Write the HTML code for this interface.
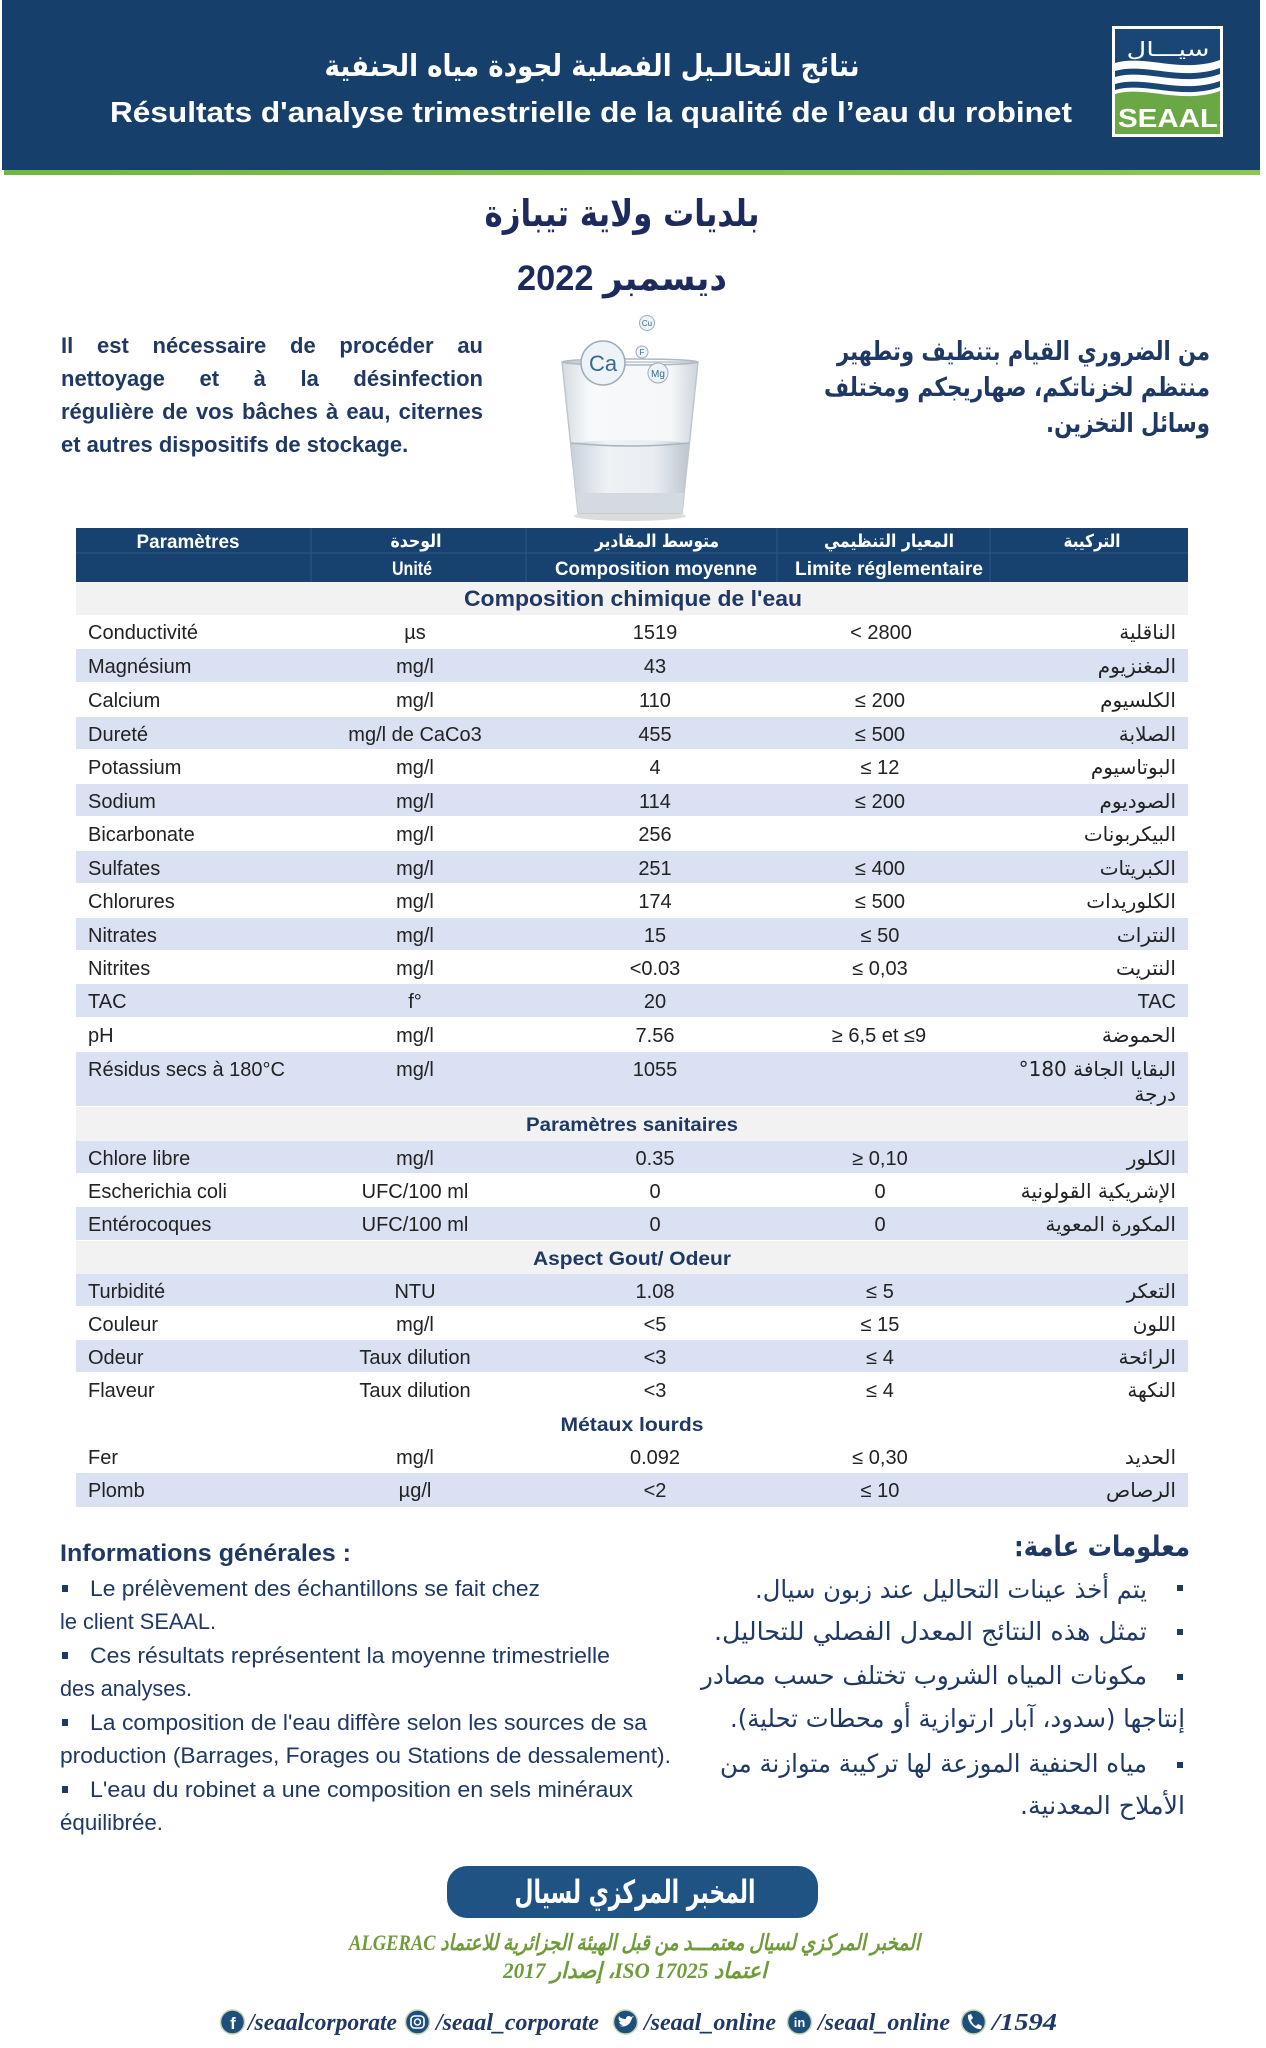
<!DOCTYPE html>
<html><head><meta charset="utf-8">
<style>
html,body{margin:0;padding:0;background:#fff;}
#page{position:relative;width:1266px;height:2048px;overflow:hidden;background:#fff;}
svg{position:absolute;left:0;top:0;}
.lp{position:absolute;left:61px;top:329px;width:422px;font-family:"Liberation Sans",sans-serif;font-weight:bold;font-size:22px;line-height:33px;color:#1f3864;}
.lp div{white-space:normal;}
.lp .j{text-align:justify;text-align-last:justify;}
</style></head>
<body><div id="page">
<svg width="1266" height="2048" viewBox="0 0 1266 2048" font-family="'Liberation Sans','DejaVu Sans',sans-serif">
<defs>
<linearGradient id="gl" x1="0" x2="1"><stop offset="0" stop-color="#d5dbe1"/><stop offset="0.2" stop-color="#f7f9fa"/><stop offset="0.8" stop-color="#f5f7f9"/><stop offset="1" stop-color="#cdd4db"/></linearGradient>
<linearGradient id="wt" x1="0" x2="1"><stop offset="0" stop-color="#c7d0d9"/><stop offset="0.3" stop-color="#eef2f5"/><stop offset="0.7" stop-color="#eaeef2"/><stop offset="1" stop-color="#bcc6d0"/></linearGradient>
<linearGradient id="gr" x1="0" x2="1"><stop offset="0" stop-color="#6fb843"/><stop offset="1" stop-color="#8cc74f"/></linearGradient>
</defs>

<!-- Header band -->
<rect x="2" y="0" width="1258" height="170" fill="#163f6b"/>
<rect x="4" y="170" width="1256" height="5" fill="url(#gr)"/>
<text x="592" y="76" text-anchor="middle" font-family="'DejaVu Sans',sans-serif" font-weight="bold" font-size="30" fill="#fff" textLength="535" lengthAdjust="spacingAndGlyphs">نتائج التحالـيل الفصلية لجودة مياه الحنفية</text>
<text x="591" y="122" text-anchor="middle" font-weight="bold" font-size="29" fill="#fff" textLength="962" lengthAdjust="spacingAndGlyphs">Résultats d'analyse trimestrielle de la qualité de l’eau du robinet</text>

<!-- Logo -->
<rect x="1112" y="26" width="111" height="111" fill="#fff"/>
<rect x="1115" y="29" width="105" height="105" fill="#1a4675"/>
<text x="1168" y="56" text-anchor="middle" font-family="'DejaVu Sans',sans-serif" font-size="20" fill="#fff" textLength="83" lengthAdjust="spacingAndGlyphs">سيـــال</text>
<path d="M1115,63 C1145,54 1180,74 1220,60 L1220,68 C1180,82 1145,62 1115,71 Z" fill="#fff"/>
<path d="M1115,77 C1145,68 1180,88 1220,74 L1220,81 C1180,95 1145,75 1115,84 Z" fill="#fff"/>
<path d="M1115,90 C1145,81 1180,101 1220,87 L1220,134 L1115,134 Z" fill="#fff"/>
<path d="M1115,94 C1145,85 1180,105 1220,91 L1220,134 L1115,134 Z" fill="#6aa846"/>
<text x="1168" y="127" text-anchor="middle" font-weight="bold" font-size="26" fill="#fff" textLength="100" lengthAdjust="spacingAndGlyphs">SEAAL</text>

<!-- Titles -->
<text x="622" y="226" text-anchor="middle" direction="rtl" font-family="'DejaVu Sans',sans-serif" font-weight="bold" font-size="37" fill="#1c2a5e" textLength="275" lengthAdjust="spacingAndGlyphs">بلديات ولاية تيبازة</text>
<text x="622" y="290" text-anchor="middle" direction="rtl" font-family="'Liberation Sans','DejaVu Sans',sans-serif" font-weight="bold" font-size="35" fill="#1c2a5e" textLength="210" lengthAdjust="spacingAndGlyphs">ديسمبر 2022</text>

<!-- Right Arabic paragraph -->
<g font-family="'DejaVu Sans',sans-serif" font-weight="bold" font-size="26" fill="#1f3864" text-anchor="middle" direction="rtl">
<text x="1023.5" y="360" textLength="373" lengthAdjust="spacingAndGlyphs">من الضروري القيام بتنظيف وتطهير</text>
<text x="1017" y="396" textLength="386" lengthAdjust="spacingAndGlyphs">منتظم لخزناتكم، صهاريجكم ومختلف</text>
<text x="1128" y="432" textLength="164" lengthAdjust="spacingAndGlyphs">وسائل التخزين.</text>
</g>

<!-- Glass -->
<ellipse cx="630" cy="516" rx="56" ry="5" fill="#c4c4c4" opacity="0.6"/>
<path d="M562,362 L698,362 L682,513 L578,513 Z" fill="url(#gl)" stroke="#bfc6cd" stroke-width="1.5"/>
<path d="M571,443 Q630,437 689,443 L684,493 L576,493 Z" fill="url(#wt)"/>
<path d="M571,443 Q630,449 689,443" fill="none" stroke="#a9b4bf" stroke-width="1.5"/>
<path d="M576,493 L684,493 L682,513 L578,513 Z" fill="#d3dae1"/>
<ellipse cx="630" cy="362" rx="68" ry="3" fill="none" stroke="#b0b9c2" stroke-width="1.5"/>
<circle cx="603" cy="363" r="22" fill="#eef3f7" stroke="#9eacb9" stroke-width="1.5"/>
<text x="603" y="371" text-anchor="middle" font-size="22" fill="#356a8e">Ca</text>
<circle cx="647" cy="323" r="7.5" fill="#eef3f7" stroke="#9eacb9"/>
<text x="647" y="326" text-anchor="middle" font-size="8" fill="#356a8e">Cu</text>
<circle cx="642" cy="352" r="6" fill="#eef3f7" stroke="#9eacb9"/>
<text x="642" y="355" text-anchor="middle" font-size="8" fill="#356a8e">F</text>
<circle cx="658" cy="373" r="10" fill="#eef3f7" stroke="#9eacb9"/>
<text x="658" y="377" text-anchor="middle" font-size="10" fill="#356a8e">Mg</text>

<!-- Table header -->
<rect x="76" y="528" width="1112" height="54" fill="#17416e"/>
<g stroke="#2d5787" stroke-width="1">
<line x1="76" y1="553" x2="1188" y2="553"/>
<line x1="311" y1="528" x2="311" y2="582"/>
<line x1="526" y1="528" x2="526" y2="582"/>
<line x1="777" y1="528" x2="777" y2="582"/>
<line x1="990" y1="528" x2="990" y2="582"/>
</g>
<g fill="#fff" font-weight="bold" text-anchor="middle">
<text x="188" y="548" font-size="19" textLength="103" lengthAdjust="spacingAndGlyphs">Paramètres</text>
<text x="416" y="547" font-family="'DejaVu Sans',sans-serif" font-size="18" textLength="51" lengthAdjust="spacingAndGlyphs">الوحدة</text>
<text x="657" y="547" font-family="'DejaVu Sans',sans-serif" font-size="18" textLength="124" lengthAdjust="spacingAndGlyphs">متوسط المقادير</text>
<text x="889" y="547" font-family="'DejaVu Sans',sans-serif" font-size="18" textLength="130" lengthAdjust="spacingAndGlyphs">المعيار التنظيمي</text>
<text x="1092" y="547" font-family="'DejaVu Sans',sans-serif" font-size="18" textLength="57" lengthAdjust="spacingAndGlyphs">التركيبة</text>
<text x="412" y="575" font-size="19" textLength="40" lengthAdjust="spacingAndGlyphs">Unité</text>
<text x="656" y="575" font-size="19" textLength="202" lengthAdjust="spacingAndGlyphs">Composition moyenne</text>
<text x="889" y="575" font-size="19" textLength="188" lengthAdjust="spacingAndGlyphs">Limite réglementaire</text>
</g>

<!-- Row backgrounds -->
<g fill="#f2f2f2">
<rect x="76" y="582" width="1112" height="33"/>
<rect x="76" y="1107" width="1112" height="34"/>
<rect x="76" y="1241" width="1112" height="33"/>
</g>
<g fill="#d9e1f2">
<rect x="76" y="649" width="1112" height="33"/>
<rect x="76" y="717" width="1112" height="32"/>
<rect x="76" y="784" width="1112" height="32"/>
<rect x="76" y="851" width="1112" height="32"/>
<rect x="76" y="918" width="1112" height="32"/>
<rect x="76" y="984" width="1112" height="33"/>
<rect x="76" y="1052" width="1112" height="54"/>
<rect x="76" y="1141" width="1112" height="32"/>
<rect x="76" y="1207" width="1112" height="33"/>
<rect x="76" y="1274" width="1112" height="32"/>
<rect x="76" y="1340" width="1112" height="32"/>
<rect x="76" y="1473" width="1112" height="34"/>
</g>

<!-- Section titles -->
<g fill="#1f3864" font-weight="bold" text-anchor="middle">
<text x="633" y="606" font-size="22" textLength="338" lengthAdjust="spacingAndGlyphs">Composition chimique de l'eau</text>
<text x="632" y="1131" font-size="19" textLength="212" lengthAdjust="spacingAndGlyphs">Paramètres sanitaires</text>
<text x="632" y="1265" font-size="19" textLength="198" lengthAdjust="spacingAndGlyphs">Aspect Gout/ Odeur</text>
<text x="632" y="1431" font-size="19" textLength="143" lengthAdjust="spacingAndGlyphs">Métaux lourds</text>
</g>

<!-- Table body -->
<g font-size="20" fill="#222">
<g>
<text x="88" y="639">Conductivité</text>
<text x="88" y="673">Magnésium</text>
<text x="88" y="707">Calcium</text>
<text x="88" y="741">Dureté</text>
<text x="88" y="774">Potassium</text>
<text x="88" y="808">Sodium</text>
<text x="88" y="841">Bicarbonate</text>
<text x="88" y="875">Sulfates</text>
<text x="88" y="908">Chlorures</text>
<text x="88" y="942">Nitrates</text>
<text x="88" y="975">Nitrites</text>
<text x="88" y="1008">TAC</text>
<text x="88" y="1042">pH</text>
<text x="88" y="1076">Résidus secs à 180°C</text>
<text x="88" y="1165">Chlore libre</text>
<text x="88" y="1198">Escherichia coli</text>
<text x="88" y="1231">Entérocoques</text>
<text x="88" y="1298">Turbidité</text>
<text x="88" y="1331">Couleur</text>
<text x="88" y="1364">Odeur</text>
<text x="88" y="1397">Flaveur</text>
<text x="88" y="1464">Fer</text>
<text x="88" y="1497">Plomb</text>
</g>
<g text-anchor="middle">
<text x="415" y="639">µs</text>
<text x="415" y="673">mg/l</text>
<text x="415" y="707">mg/l</text>
<text x="415" y="741">mg/l de CaCo3</text>
<text x="415" y="774">mg/l</text>
<text x="415" y="808">mg/l</text>
<text x="415" y="841">mg/l</text>
<text x="415" y="875">mg/l</text>
<text x="415" y="908">mg/l</text>
<text x="415" y="942">mg/l</text>
<text x="415" y="975">mg/l</text>
<text x="415" y="1008">f°</text>
<text x="415" y="1042">mg/l</text>
<text x="415" y="1076">mg/l</text>
<text x="415" y="1165">mg/l</text>
<text x="415" y="1198">UFC/100 ml</text>
<text x="415" y="1231">UFC/100 ml</text>
<text x="415" y="1298">NTU</text>
<text x="415" y="1331">mg/l</text>
<text x="415" y="1364">Taux dilution</text>
<text x="415" y="1397">Taux dilution</text>
<text x="415" y="1464">mg/l</text>
<text x="415" y="1497">µg/l</text>

<text x="655" y="639">1519</text>
<text x="655" y="673">43</text>
<text x="655" y="707">110</text>
<text x="655" y="741">455</text>
<text x="655" y="774">4</text>
<text x="655" y="808">114</text>
<text x="655" y="841">256</text>
<text x="655" y="875">251</text>
<text x="655" y="908">174</text>
<text x="655" y="942">15</text>
<text x="655" y="975">&lt;0.03</text>
<text x="655" y="1008">20</text>
<text x="655" y="1042">7.56</text>
<text x="655" y="1076">1055</text>
<text x="655" y="1165">0.35</text>
<text x="655" y="1198">0</text>
<text x="655" y="1231">0</text>
<text x="655" y="1298">1.08</text>
<text x="655" y="1331">&lt;5</text>
<text x="655" y="1364">&lt;3</text>
<text x="655" y="1397">&lt;3</text>
<text x="655" y="1464">0.092</text>
<text x="655" y="1497">&lt;2</text>

<text x="881" y="639">&lt; 2800</text>
<text x="880" y="707">≤ 200</text>
<text x="880" y="741">≤ 500</text>
<text x="880" y="774">≤ 12</text>
<text x="880" y="808">≤ 200</text>
<text x="880" y="875">≤ 400</text>
<text x="880" y="908">≤ 500</text>
<text x="880" y="942">≤ 50</text>
<text x="880" y="975">≤ 0,03</text>
<text x="879" y="1042">≥ 6,5 et ≤9</text>
<text x="880" y="1165">≥ 0,10</text>
<text x="880" y="1198">0</text>
<text x="880" y="1231">0</text>
<text x="880" y="1298">≤ 5</text>
<text x="880" y="1331">≤ 15</text>
<text x="880" y="1364">≤ 4</text>
<text x="880" y="1397">≤ 4</text>
<text x="880" y="1464">≤ 0,30</text>
<text x="880" y="1497">≤ 10</text>
</g>
<g text-anchor="end" font-family="'DejaVu Sans',sans-serif" font-size="20">
<text x="1176" y="639">الناقلية</text>
<text x="1176" y="673">المغنزيوم</text>
<text x="1176" y="707">الكلسيوم</text>
<text x="1176" y="741">الصلابة</text>
<text x="1176" y="774">البوتاسيوم</text>
<text x="1176" y="808">الصوديوم</text>
<text x="1176" y="841">البيكربونات</text>
<text x="1176" y="875">الكبريتات</text>
<text x="1176" y="908">الكلوريدات</text>
<text x="1176" y="942">النترات</text>
<text x="1176" y="975">النتريت</text>
<text x="1176" y="1008" font-family="'Liberation Sans',sans-serif" font-size="20">TAC</text>
<text x="1176" y="1042">الحموضة</text>
<text x="1176" y="1076">°180 البقايا الجافة</text>
<text x="1176" y="1101">درجة</text>
<text x="1176" y="1165">الكلور</text>
<text x="1176" y="1198">الإشريكية القولونية</text>
<text x="1176" y="1231">المكورة المعوية</text>
<text x="1176" y="1298">التعكر</text>
<text x="1176" y="1331">اللون</text>
<text x="1176" y="1364">الرائحة</text>
<text x="1176" y="1397">النكهة</text>
<text x="1176" y="1464">الحديد</text>
<text x="1176" y="1497">الرصاص</text>
</g>
</g>

<!-- Informations générales -->
<text x="60" y="1561" font-weight="bold" font-size="24" fill="#1f3864" textLength="291" lengthAdjust="spacingAndGlyphs">Informations générales :</text>
<g fill="#1f3864">
<rect x="62" y="1585" width="6" height="7"/>
<rect x="62" y="1652" width="6" height="7"/>
<rect x="62" y="1719" width="6" height="7"/>
<rect x="62" y="1786" width="6" height="7"/>
</g>
<g font-size="22.5" fill="#1f3864">
<text x="90" y="1596" textLength="450" lengthAdjust="spacingAndGlyphs">Le prélèvement des échantillons se fait chez</text>
<text x="60" y="1629" textLength="156" lengthAdjust="spacingAndGlyphs">le client SEAAL.</text>
<text x="90" y="1663" textLength="520" lengthAdjust="spacingAndGlyphs">Ces résultats représentent la moyenne trimestrielle</text>
<text x="60" y="1696" textLength="132" lengthAdjust="spacingAndGlyphs">des analyses.</text>
<text x="90" y="1730" textLength="557" lengthAdjust="spacingAndGlyphs">La composition de l'eau diffère selon les sources de sa</text>
<text x="60" y="1763" textLength="611" lengthAdjust="spacingAndGlyphs">production (Barrages, Forages ou Stations de dessalement).</text>
<text x="90" y="1797" textLength="543" lengthAdjust="spacingAndGlyphs">L'eau du robinet a une composition en sels minéraux</text>
<text x="60" y="1830" textLength="103" lengthAdjust="spacingAndGlyphs">équilibrée.</text>
</g>

<!-- معلومات عامة -->
<text x="1102" y="1556" text-anchor="middle" direction="rtl" font-family="'DejaVu Sans',sans-serif" font-weight="bold" font-size="28" fill="#1f3864" textLength="176" lengthAdjust="spacingAndGlyphs">معلومات عامة:</text>
<g fill="#1f3864">
<rect x="1177" y="1585" width="6" height="6"/>
<rect x="1177" y="1629" width="6" height="6"/>
<rect x="1177" y="1674" width="6" height="6"/>
<rect x="1177" y="1762" width="6" height="6"/>
</g>
<g font-family="'DejaVu Sans',sans-serif" font-size="25" fill="#1f3864" text-anchor="middle" direction="rtl">
<text x="951" y="1598" textLength="392" lengthAdjust="spacingAndGlyphs">يتم أخذ عينات التحاليل عند زبون سيال.</text>
<text x="930.5" y="1640" textLength="433" lengthAdjust="spacingAndGlyphs">تمثل هذه النتائج المعدل الفصلي للتحاليل.</text>
<text x="924" y="1684" textLength="446" lengthAdjust="spacingAndGlyphs">مكونات المياه الشروب تختلف حسب مصادر</text>
<text x="957.5" y="1727" textLength="455" lengthAdjust="spacingAndGlyphs">إنتاجها (سدود، آبار ارتوازية أو محطات تحلية).</text>
<text x="933.5" y="1772" textLength="427" lengthAdjust="spacingAndGlyphs">مياه الحنفية الموزعة لها تركيبة متوازنة من</text>
<text x="1102.5" y="1814" textLength="165" lengthAdjust="spacingAndGlyphs">الأملاح المعدنية.</text>
</g>

<!-- Lab banner -->
<rect x="447" y="1866" width="371" height="52" rx="20" ry="20" fill="#1e5383"/>
<text x="635" y="1903" text-anchor="middle" direction="rtl" font-family="'DejaVu Sans',sans-serif" font-weight="bold" font-size="32" fill="#fff" textLength="241" lengthAdjust="spacingAndGlyphs">المخبر المركزي لسيال</text>

<g font-family="'Liberation Serif','DejaVu Sans',serif" font-weight="bold" font-style="italic" font-size="22" fill="#6f9b3b" text-anchor="middle" direction="rtl">
<text x="634.5" y="1950" textLength="571" lengthAdjust="spacingAndGlyphs">المخبر المركزي لسيال معتمـــد من قبل الهيئة الجزائرية للاعتماد ALGERAC</text>
<text x="635" y="1978" textLength="264" lengthAdjust="spacingAndGlyphs">اعتماد ISO 17025، إصدار 2017</text>
</g>

<!-- Social -->
<g fill="#1d4f7d" stroke="#c9d6ae" stroke-width="1.5">
<circle cx="232.5" cy="2022" r="12"/>
<circle cx="417.5" cy="2022" r="12"/>
<circle cx="625.5" cy="2022" r="12"/>
<circle cx="799.5" cy="2022" r="12"/>
<circle cx="973.5" cy="2022" r="12"/>
</g>
<g fill="#fff">
<text x="233" y="2029" text-anchor="middle" font-weight="bold" font-size="17">f</text>
<rect x="411" y="2016" width="13" height="12" rx="3.5" fill="none" stroke="#fff" stroke-width="1.6"/>
<circle cx="417.5" cy="2022" r="3" fill="none" stroke="#fff" stroke-width="1.5"/>
<path d="M618,2025 C622,2028 630,2027 632,2018 L634,2016 L631,2017 C629,2015 626,2016 626,2019 C623,2019 620,2018 619,2016 C618,2019 619,2021 621,2022 L619,2022 C620,2024 621,2025 623,2025 C622,2026 620,2026 618,2025 Z"/>
<text x="799.5" y="2027" text-anchor="middle" font-weight="bold" font-size="13">in</text>
<path d="M968,2015 L971,2014 L973,2018 L971,2020 C972,2023 974,2025 976,2026 L978,2024 L982,2026 L981,2029 C975,2030 967,2022 968,2015 Z"/>
</g>
<g font-family="'Liberation Serif',serif" font-weight="bold" font-style="italic" font-size="24" fill="#1f3864">
<text x="248" y="2030" textLength="149" lengthAdjust="spacingAndGlyphs">/seaalcorporate</text>
<text x="436" y="2030" textLength="163" lengthAdjust="spacingAndGlyphs">/seaal_corporate</text>
<text x="644" y="2030" textLength="132" lengthAdjust="spacingAndGlyphs">/seaal_online</text>
<text x="818" y="2030" textLength="132" lengthAdjust="spacingAndGlyphs">/seaal_online</text>
<text x="992" y="2030" textLength="65" lengthAdjust="spacingAndGlyphs">/1594</text>
</g>
</svg>

<div class="lp">
<div class="j">Il est nécessaire de procéder au</div>
<div class="j">nettoyage et à la désinfection</div>
<div class="j">régulière de vos bâches à eau, citernes</div>
<div>et autres dispositifs de stockage.</div>
</div>
</div></body></html>
